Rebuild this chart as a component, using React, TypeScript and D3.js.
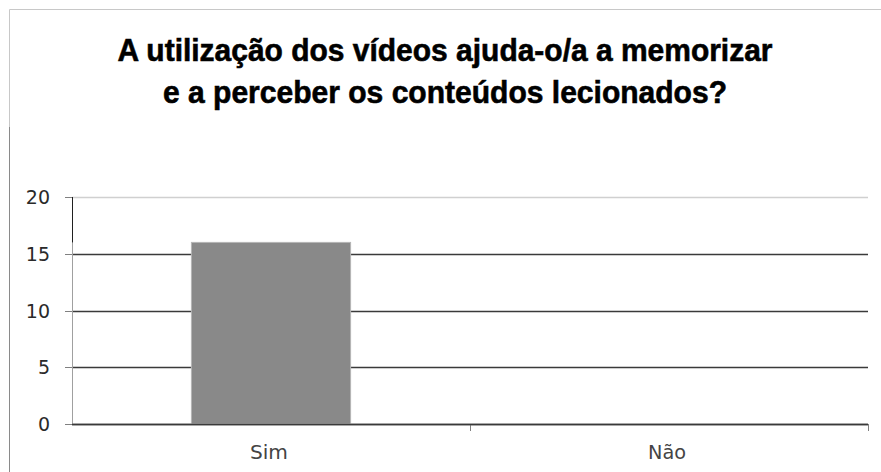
import React from "react";
import * as d3 from "d3";

const categories = ["Sim", "Não"];
const values = [16, 0];
const yTicks = [0, 5, 10, 15, 20];
const titleLines = [
  "A utilização dos vídeos ajuda-o/a a memorizar",
  "e a perceber os conteúdos lecionados?",
];

export default function App() {
  const W = 881, H = 472;
  const left = 72, right = 868, top = 197, bottom = 424;
  const x = d3.scaleBand<string>().domain(categories).range([left, right]).paddingInner(0.6).paddingOuter(0.3);
  const xb = d3.scaleBand<string>().domain(categories).range([left, right]).padding(0);
  const y = d3.scaleLinear().domain([0, 20]).range([bottom, top]);
  return (
    <svg width={W} height={H} style={{ position: "absolute", left: 0, top: 0, background: "#fff" }}>
      <rect x={0} y={0} width={W} height={H} fill="#fff" />
      <line x1={9.5} y1={9.5} x2={W} y2={9.5} stroke="#c8c8c8" />
      <line x1={9.5} y1={9.5} x2={9.5} y2={127} stroke="#c8c8c8" />
      <line x1={9.5} y1={127} x2={9.5} y2={H} stroke="#8a8a8a" />
      {titleLines.map((t, i) => (
        <text key={i} x={445} y={61 + i * 42} textAnchor="middle" fontFamily="'Liberation Sans', Arial, sans-serif"
          fontWeight="bold" fontSize={32} fill="#000" stroke="#000" strokeWidth={0.6}
          textLength={i === 0 ? 655 : 564} lengthAdjust="spacingAndGlyphs">{t}</text>
      ))}
      {yTicks.map((t) => (
        <g key={t}>
          <line x1={left} x2={right} y1={Math.round(y(t)) + 0.5} y2={Math.round(y(t)) + 0.5}
            stroke={t === 20 ? "#d0d0d0" : "#3a3a3a"} strokeWidth={1.3} />
          <line x1={left - 7} x2={left} y1={Math.round(y(t)) + 0.5} y2={Math.round(y(t)) + 0.5} stroke="#808080" />
          <text x={50} y={y(t) + 7} textAnchor="end" fontFamily="'DejaVu Sans', Verdana, sans-serif" fontSize={19}
            fill="#2a2a2a">{t}</text>
        </g>
      ))}
      <line x1={left + 0.5} x2={left + 0.5} y1={top} y2={bottom} stroke="#a0a0a0" />
      <line x1={left + 0.5} x2={left + 0.5} y1={top} y2={y(values[0])} stroke="#202020" />
      {categories.map((c, i) => (
        <g key={c}>
          {values[i] > 0 && (
            <rect x={x(c)!} y={y(values[i])} width={x.bandwidth()} height={bottom - y(values[i])}
              fill="#898989" stroke="#b5b5b5" strokeWidth={1} />
          )}
          <line x1={xb(c)! + xb.bandwidth() + 0.5} x2={xb(c)! + xb.bandwidth() + 0.5} y1={bottom} y2={bottom + 7}
            stroke="#808080" />
          <text x={xb(c)! + xb.bandwidth() / 2 - 2} y={459} textAnchor="middle"
            fontFamily="'DejaVu Sans', Verdana, sans-serif" fontSize={19} fill="#444"
            textLength={38} lengthAdjust="spacingAndGlyphs">{c}</text>
        </g>
      ))}
      <line x1={left} x2={right} y1={bottom + 0.5} y2={bottom + 0.5} stroke="#3a3a3a" strokeWidth={1.3} />
    </svg>
  );
}
